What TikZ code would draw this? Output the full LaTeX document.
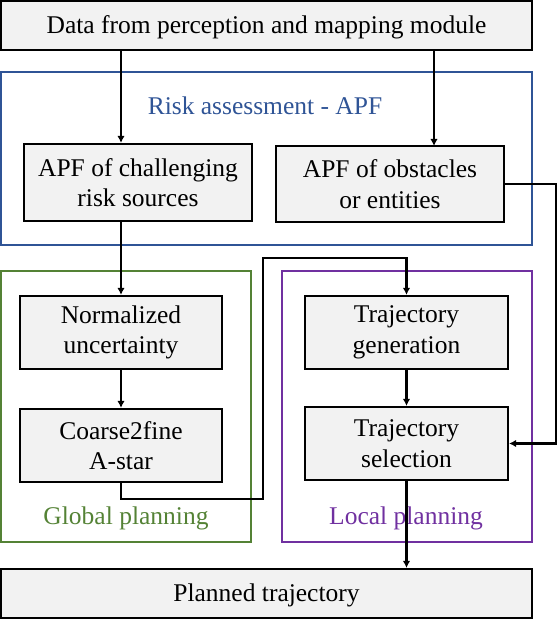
\documentclass[tikz,border=0pt]{standalone}
\usepackage{fontspec}
\setmainfont{Liberation Serif}
\usetikzlibrary{arrows.meta}
\definecolor{riskblue}{HTML}{2F5496}
\definecolor{globalgreen}{HTML}{548235}
\definecolor{localpurple}{HTML}{7030A0}
\definecolor{boxgray}{HTML}{F2F2F2}

\begin{document}
\begin{tikzpicture}[x=1pt, y=-1pt,
    box/.style={draw, line width=2.2pt, fill=boxgray, rectangle, inner sep=0pt, align=center,
                font=\fontsize{25.5}{30.5}\selectfont, execute at begin node={\rule{0pt}{22pt}}},
    frame/.style={draw, line width=1.3pt, rectangle, inner sep=0pt},
    lbl/.style={font=\fontsize{25.5}{30.5}\selectfont},
    arr/.style={line width=2.4pt, -{Latex[length=7pt,width=7.5pt]}}]
    \useasboundingbox (0,0) rectangle (558,620);

    % Frames
    \node[frame, draw=riskblue, minimum width=531pt, minimum height=173pt] (risk) at (266.5,158.5) {};
    \node[frame, draw=globalgreen, minimum width=250pt, minimum height=271pt] (global) at (126,406.5) {};
    \node[frame, draw=localpurple, minimum width=250pt, minimum height=271pt] (local) at (407,406.5) {};
    \node[lbl, text=riskblue] (risk-lbl) at (265,106) {Risk assessment - APF};
    \node[lbl, text=globalgreen] (global-lbl) at (126,518) {Global planning};
    \node[lbl, text=localpurple] (local-lbl) at (406,518) {Local planning};

    % Boxes
    \node[box, minimum width=531pt, minimum height=49pt] (data) at (266.5,25.5) {Data from perception and mapping module};
    \node[box, minimum width=228pt, minimum height=77pt] (chal) at (138,182.5) {APF of challenging\\risk sources};
    \node[box, minimum width=228pt, minimum height=76pt] (obst) at (390,184) {APF of obstacles\\or entities};
    \node[box, minimum width=202pt, minimum height=73pt] (norm) at (121,332.5) {Normalized\\uncertainty};
    \node[box, minimum width=202pt, minimum height=73pt] (astar) at (121,445.5) {Coarse2fine\\A-star};
    \node[box, minimum width=203pt, minimum height=73pt] (gen) at (406.5,332.5) {Trajectory\\generation};
    \node[box, minimum width=203pt, minimum height=73pt] (sel) at (406.5,443.5) {Trajectory\\selection};
    \node[box, minimum width=531pt, minimum height=49pt] (plan) at (266.5,593.5) {Planned trajectory};

    % Corner points
    \coordinate (obst-in) at (434,146);
    \coordinate (jog-low) at (263,499);
    \coordinate (jog-high) at (263,258);
    \coordinate (right-rail) at (556,184);

    % Connectors
    \draw[arr] (data.south -| norm.north) -- (chal.north -| norm.north);
    \draw[arr] (data.south -| obst-in) -- (obst-in);
    \draw[arr] (chal.south -| norm.north) -- (norm.north);
    \draw[arr] (norm) -- (astar);
    \draw[arr] (astar.south) -- (astar.south |- jog-low) -- (jog-low) -- (jog-high) -- (jog-high -| gen.north) -- (gen.north);
    \draw[arr] (obst.east) -- (right-rail) -- (right-rail |- sel.east) -- (sel.east);
    \draw[arr] (gen) -- (sel);
    \draw[arr] (sel.south) -- (sel.south |- plan.north);
\end{tikzpicture}
\end{document}
